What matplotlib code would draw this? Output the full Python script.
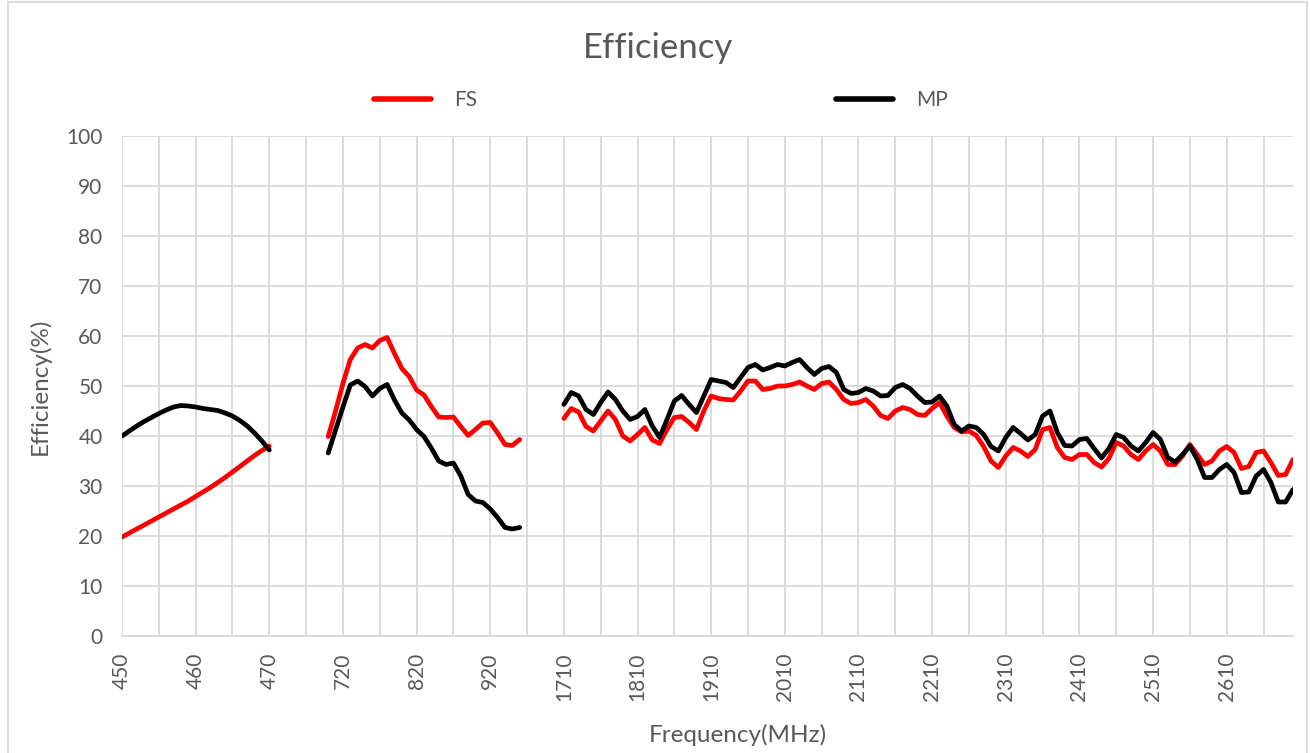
import numpy as np
import matplotlib
matplotlib.use("Agg")
import matplotlib.pyplot as plt
from matplotlib.patches import Rectangle
from matplotlib.lines import Line2D

# category axis: three bands, blank rows between them (as in the sheet)
low_freq = list(range(450, 471, 1))
mid_freq = list(range(700, 961, 10))
high_freq = list(range(1710, 2701, 10))
blank_after_low = 7
blank_after_mid = 5

# FS (red)
fs_low = [19.8, 20.6, 21.4, 22.2, 23.0, 23.8, 24.6, 25.4, 26.2, 27.0, 27.9,
          28.8, 29.7, 30.7, 31.7, 32.8, 33.9, 35.0, 36.1, 37.1, 38.0]
fs_mid = [39.9, 45.0, 50.5, 55.3, 57.6, 58.3, 57.6, 59.1, 59.7, 56.5, 53.5,
          51.9, 49.2, 48.2, 45.9, 43.8, 43.7, 43.8, 41.9, 40.1, 41.3, 42.6,
          42.7, 40.6, 38.3, 38.1, 39.3]
fs_high = [43.5, 45.5, 44.8, 41.9, 41.0, 43.0, 45.0, 43.3, 40.0, 39.0,
           40.3, 41.7, 39.2, 38.5, 41.3, 43.7, 43.9, 42.7, 41.3, 45.0,
           48.0, 47.5, 47.3, 47.2, 49.0, 51.0, 51.0, 49.3, 49.5, 50.0,
           50.0, 50.3, 50.8, 50.0, 49.3, 50.5, 50.8, 49.3, 47.3, 46.5,
           46.7, 47.3, 46.0, 44.1, 43.5, 45.0, 45.7, 45.3, 44.3, 44.1,
           45.5, 46.7, 44.0, 41.7, 40.8, 41.0, 40.1, 37.9, 35.0, 33.7,
           36.0, 37.7, 37.0, 35.9, 37.3, 41.3, 41.7, 37.7, 35.7, 35.3,
           36.3, 36.3, 34.7, 33.8, 35.5, 38.7, 38.0, 36.3, 35.3, 37.0,
           38.3, 37.0, 34.3, 34.3, 36.0, 38.3, 36.3, 34.3, 35.0, 37.0,
           37.9, 36.7, 33.5, 33.9, 36.7, 37.0, 34.7, 32.1, 32.3, 35.3]

# MP (black)
mp_low = [40.0, 41.0, 42.0, 42.9, 43.7, 44.5, 45.2, 45.8, 46.1, 46.0, 45.8,
          45.5, 45.3, 45.1, 44.6, 44.0, 43.1, 42.0, 40.6, 39.0, 37.2]
mp_mid = [36.6, 41.2, 45.8, 50.2, 51.0, 49.9, 48.0, 49.5, 50.3, 47.2, 44.6,
          43.2, 41.3, 39.9, 37.6, 35.0, 34.3, 34.6, 32.0, 28.3, 27.0, 26.7,
          25.4, 23.7, 21.7, 21.4, 21.7]
mp_high = [46.3, 48.7, 48.0, 45.3, 44.3, 46.7, 48.8, 47.3, 45.0, 43.3,
           43.9, 45.3, 42.0, 39.7, 43.3, 47.0, 48.1, 46.3, 44.7, 48.0,
           51.3, 51.0, 50.7, 49.7, 51.7, 53.7, 54.3, 53.2, 53.7, 54.3,
           54.0, 54.7, 55.3, 53.7, 52.3, 53.5, 53.9, 52.7, 49.3, 48.5,
           48.7, 49.5, 49.0, 48.0, 48.1, 49.7, 50.3, 49.5, 48.0, 46.7,
           46.8, 48.0, 46.0, 42.3, 41.0, 42.0, 41.7, 40.3, 37.9, 37.0,
           39.7, 41.7, 40.5, 39.2, 40.3, 44.0, 45.0, 40.7, 38.1, 38.0,
           39.3, 39.5, 37.5, 35.6, 37.5, 40.3, 39.7, 38.0, 37.0, 38.7,
           40.7, 39.3, 35.7, 34.8, 36.3, 38.0, 35.3, 31.7, 31.7, 33.3,
           34.3, 32.7, 28.7, 28.8, 32.0, 33.3, 30.7, 26.8, 26.8, 29.3]

GREY = "#595959"
GRID = "#d9d9d9"
FONT = ["Lato", "DejaVu Sans"]

plt.rcParams["font.family"] = FONT


def join_bands(a, b, c):
    # put the blank categories back between the bands
    return np.array(list(a) + [np.nan] * blank_after_low + list(b)
                    + [np.nan] * blank_after_mid + list(c), dtype=float)


labels = [str(f) for f in low_freq] + [""] * blank_after_low + \
         [str(f) for f in mid_freq] + [""] * blank_after_mid + \
         [str(f) for f in high_freq]
x = np.arange(len(labels))
fs = join_bands(fs_low, fs_mid, fs_high)
mp = join_bands(mp_low, mp_mid, mp_high)

W, H = 1310, 753
fig = plt.figure(figsize=(W / 100, H / 100), dpi=100)
ax = fig.add_axes([122 / W, 1 - 636 / H, (1293 - 122) / W, 500 / H])

ax.plot(x, fs, color="#ff0000", lw=3.4, solid_capstyle="round",
        solid_joinstyle="round", zorder=3)
ax.plot(x, mp, color="#000000", lw=3.4, solid_capstyle="round",
        solid_joinstyle="round", zorder=4)

ax.set_xlim(0, len(labels) - 1)
ax.set_ylim(0, 100)
ax.set_yticks(range(0, 101, 10))
ax.set_xticks(x[::5])
ax.set_xticklabels([labels[i] if i % 10 == 0 else "" for i in x[::5]],
                   rotation=90, ha="center", va="top")
ax.grid(True, color=GRID, lw=1.3, zorder=0)
ax.set_axisbelow(True)
for s in ["top", "right", "left"]:
    ax.spines[s].set_visible(False)
ax.spines["bottom"].set_color(GRID)
ax.spines["bottom"].set_linewidth(1.3)
ax.tick_params(axis="both", length=0, labelsize=15, labelcolor=GREY)
ax.tick_params(axis="y", pad=14)
ax.tick_params(axis="x", pad=12)

fig.text(658 / W, 1 - 48 / H, "Efficiency", ha="center", va="center",
         fontsize=25, color=GREY)
fig.text(40 / W, 1 - 386 / H, "Efficiency(%)", ha="center", va="center",
         rotation=90, fontsize=17.5, color=GREY)
fig.text(738 / W, 1 - 735 / H, "Frequency(MHz)", ha="center", va="center",
         fontsize=17.5, color=GREY)

handles = [Line2D([], [], color="#ff0000", lw=4, solid_capstyle="round"),
           Line2D([], [], color="#000000", lw=4, solid_capstyle="round")]
fig.legend(handles, ["FS", "MP"], loc="center", ncol=2, frameon=False,
           bbox_to_anchor=(661 / W, 1 - 100 / H), fontsize=15,
           labelcolor=GREY, handlelength=2.75, handletextpad=1.1,
           columnspacing=17.2)

fig.add_artist(Rectangle((8 / W, -0.02), (1307 - 8) / W, 1.02 - 2 / H,
                         transform=fig.transFigure, fill=False,
                         ec=GRID, lw=1.3))

fig.savefig("out.png", dpi=100)
